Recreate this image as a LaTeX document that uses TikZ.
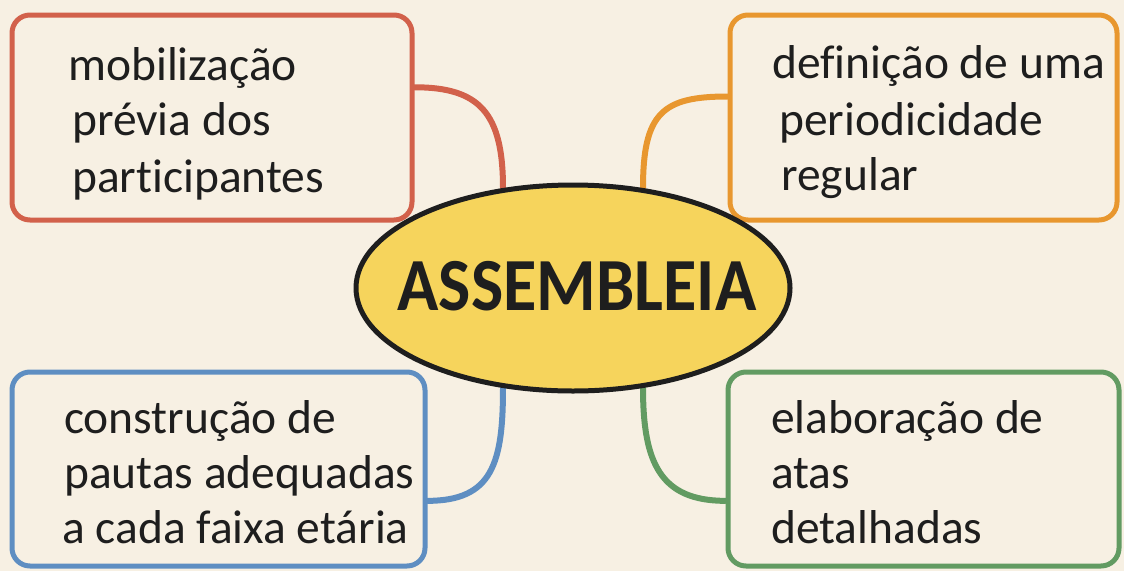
\documentclass[tikz,border=0pt]{standalone}
\usepackage{fontspec}
\setmainfont{Carlito}[Ligatures=NoCommon]
\newfontfamily\hubfont{Carlito}[FakeStretch=0.91]
\usetikzlibrary{shapes.geometric,calc}
\definecolor{bgcol}{HTML}{F7F0E3}
\definecolor{cred}{HTML}{D2614B}
\definecolor{corange}{HTML}{E8972F}
\definecolor{cblue}{HTML}{5E8EC2}
\definecolor{cgreen}{HTML}{629B62}
\definecolor{cyel}{HTML}{F6D45C}
\definecolor{ink}{HTML}{1E1E1E}
\pgfdeclarelayer{bg}
\pgfdeclarelayer{conn}
\pgfsetlayers{bg,conn,main}
\tikzset{
  topic/.style={draw=#1, line width=5pt, rounded corners=18pt, fill=bgcol, inner sep=0pt},
  link/.style={draw=#1, line width=6pt, line cap=round},
  txt/.style={anchor=base west, inner sep=0pt, text=ink, font=\fontsize{47.5}{56}\selectfont},
  hub/.style={ellipse, draw=ink, line width=5pt, fill=cyel, inner sep=0pt, minimum width=434pt, minimum height=206pt}
}
\begin{document}
\begin{tikzpicture}[x=1pt,y=-1pt]
\begin{pgfonlayer}{bg}
\fill[bgcol] (0,0) rectangle (1124,571);
\end{pgfonlayer}
\useasboundingbox (0,0) rectangle (1124,571);
% boxes
\node[topic=cred, minimum width=400pt, minimum height=205pt] (r) at (212,117.5) {};
\node[topic=corange, minimum width=387pt, minimum height=205pt] (o) at (923.5,117.5) {};
\node[topic=cblue, minimum width=413pt, minimum height=194pt] (b) at (218.5,469) {};
\node[topic=cgreen, minimum width=391pt, minimum height=194pt] (g) at (923.5,469) {};
% hub
\node[hub] (hub) at (573,288) {};
\node[anchor=base, inner sep=0pt, text=ink, font=\fontsize{75}{80}\hubfont\bfseries] (hubt) at (577,310) {ASSEMBLEIA};
% anchors on boxes
\coordinate (ra) at ($(r.north east)!0.356!(r.south east)$);
\coordinate (oa) at ($(o.north west)!0.40!(o.south west)$);
\coordinate (ba) at ($(b.north east)!0.66!(b.south east)$);
\coordinate (ga) at ($(g.north west)!0.66!(g.south west)$);
\begin{pgfonlayer}{conn}
\draw[link=cred] (ra) .. controls +(65,0) and +(0,-75) .. (hub.125);
\draw[link=corange] (oa) .. controls +(-65,0) and +(0,-75) .. (hub.55);
\draw[link=cblue] (hub.235) .. controls +(0,75) and +(65,0) .. (ba);
\draw[link=cgreen] (hub.305) .. controls +(0,75) and +(-65,0) .. (ga);
\end{pgfonlayer}
% texts
\node[txt] (r1) at (68,80) {mobilização};
\node[txt] (r2) at (72,135) {prévia dos};
\node[txt] (r3) at (72,192) {participantes};
\node[txt] (o1) at (772,78) {definição de uma};
\node[txt] (o2) at (779,135) {periodicidade};
\node[txt] (o3) at (781,190) {regular};
\node[txt] (b1) at (64,433) {construção de};
\node[txt] (b2) at (64,488) {pautas adequadas};
\node[txt] (b3) at (62,543) {a cada faixa etária};
\node[txt] (g1) at (771,433) {elaboração de};
\node[txt] (g2) at (771,488) {atas};
\node[txt] (g3) at (771,543) {detalhadas};
\end{tikzpicture}
\end{document}
